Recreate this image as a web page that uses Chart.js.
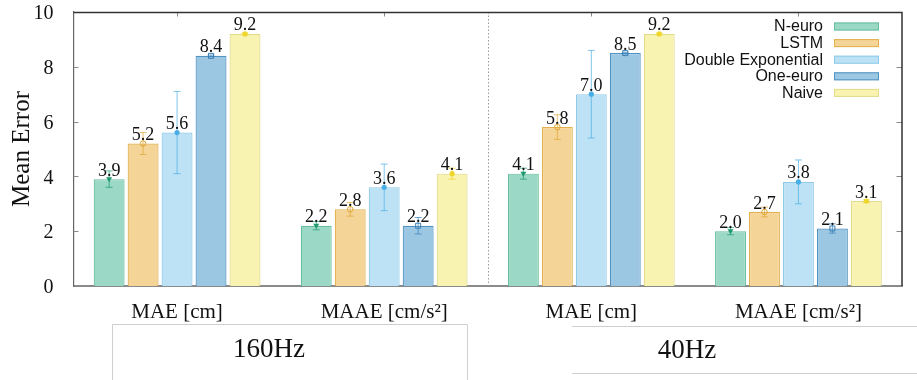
<!DOCTYPE html>
<html>
<head>
<meta charset="utf-8">
<script src="https://cdn.jsdelivr.net/npm/chart.js@4.4.1/dist/chart.umd.min.js"></script>
<style>
  html, body { margin: 0; padding: 0; background: #fff; }
  canvas { display: block; }
</style>
</head>
<body>
<canvas id="chart" width="917" height="380"></canvas>
<script>
// Metric categories along the x axis (two per sampling rate)
const categories = ['MAE [cm]', 'MAAE [cm/s²]', 'MAE [cm]', 'MAAE [cm/s²]'];
const rateGroups = ['160Hz', '40Hz'];
const seriesNames = ['N-euro', 'LSTM', 'Double Exponential', 'One-euro', 'Naive'];

// Mean errors per method
const nEuro     = [3.9, 2.2, 4.1, 2.0];
const lstm      = [5.2, 2.8, 5.8, 2.7];
const doubleExp = [5.6, 3.6, 7.0, 3.8];
const oneEuro   = [8.4, 2.2, 8.5, 2.1];
const naive     = [9.2, 4.1, 9.2, 3.1];

// Standard deviations (error bars)
const nEuroErr     = [0.30, 0.15, 0.20, 0.13];
const lstmErr      = [0.40, 0.25, 0.45, 0.18];
const doubleExpErr = [1.50, 0.85, 1.60, 0.80];
const oneEuroErr   = [0.03, 0.30, 0.03, 0.17];
const naiveErr     = [0.03, 0.20, 0.03, 0.05];

const yTicks = [0, 2, 4, 6, 8, 10];

const fills   = ['#9bd8c6', '#f4d597', '#bde2f5', '#9bc7e2', '#f8f3b0'];
const borders = ['#66bf9f', '#e2b04e', '#8fcbe9', '#5093c2', '#e2db8c'];
const markColors = ['#1e9a6e', '#e0a535', '#4aaee6', '#3b7fb5', '#efd62a'];
const markShapes = ['triangleDown', 'openCircle', 'dot', 'openSquare', 'dot'];

const values = [nEuro, lstm, doubleExp, oneEuro, naive];
const errors = [nEuroErr, lstmErr, doubleExpErr, oneEuroErr, naiveErr];

const SERIF = '"Liberation Serif", "Times New Roman", serif';
const SANS = '"Liberation Sans", Arial, sans-serif';

function drawMarker(ctx, shape, x, y, color) {
  ctx.save();
  ctx.fillStyle = color;
  ctx.strokeStyle = color;
  ctx.lineWidth = 1;
  ctx.beginPath();
  if (shape === 'triangleDown') {
    ctx.moveTo(x - 3, y - 2);
    ctx.lineTo(x + 3, y - 2);
    ctx.lineTo(x, y + 3);
    ctx.closePath();
    ctx.fill();
  } else if (shape === 'openCircle') {
    ctx.arc(x, y, 2.8, 0, Math.PI * 2);
    ctx.stroke();
  } else if (shape === 'openSquare') {
    ctx.rect(x - 2.5, y - 2.5, 5, 5);
    ctx.stroke();
  } else {
    ctx.arc(x, y, 2.6, 0, Math.PI * 2);
    ctx.fill();
  }
  ctx.restore();
}

// Frame, inward ticks, group separator, error bars, value labels, legend and rate boxes
const decorations = {
  id: 'decorations',
  beforeDatasetsDraw(chart) {
    const { ctx, chartArea: a, scales: { x, y } } = chart;
    ctx.save();
    // separator between the two sampling rates
    const sep = (x.getPixelForValue(1) + x.getPixelForValue(2)) / 2;
    ctx.strokeStyle = '#999';
    ctx.lineWidth = 1;
    ctx.setLineDash([1.5, 2]);
    ctx.beginPath();
    ctx.moveTo(Math.round(sep) + 0.5, a.top);
    ctx.lineTo(Math.round(sep) + 0.5, a.bottom);
    ctx.stroke();
    ctx.setLineDash([]);
    // inward ticks
    ctx.strokeStyle = '#8a8a8a';
    ctx.beginPath();
    yTicks.forEach(v => {
      if (v === 0 || v === 10) return;
      const py = Math.round(y.getPixelForValue(v)) + 0.5;
      ctx.moveTo(a.left, py); ctx.lineTo(a.left + 5, py);
      ctx.moveTo(a.right, py); ctx.lineTo(a.right - 5.5, py);
    });
    categories.forEach((c, i) => {
      const px = Math.round(x.getPixelForValue(i)) + 0.5;
      ctx.moveTo(px, a.top); ctx.lineTo(px, a.top + 4.5);
    });
    ctx.stroke();
    ctx.restore();
  },
  afterDatasetsDraw(chart) {
    const { ctx, chartArea: a, scales: { y } } = chart;
    ctx.save();
    // top and right frame lines
    ctx.strokeStyle = '#333';
    ctx.lineWidth = 1.5;
    ctx.beginPath();
    ctx.moveTo(a.left, a.top + 0.5);
    ctx.lineTo(a.right, a.top + 0.5);
    ctx.lineTo(a.right, a.bottom);
    ctx.stroke();

    // error bars, markers and value labels
    chart.data.datasets.forEach((ds, si) => {
      const meta = chart.getDatasetMeta(si);
      meta.data.forEach((bar, i) => {
        const v = values[si][i];
        const e = errors[si][i];
        const yHi = y.getPixelForValue(v + e);
        const yLo = y.getPixelForValue(v - e);
        ctx.strokeStyle = markColors[si];
        ctx.globalAlpha = 0.7;
        ctx.lineWidth = 1;
        ctx.beginPath();
        ctx.moveTo(bar.x, yHi); ctx.lineTo(bar.x, yLo);
        ctx.moveTo(bar.x - 3.5, yHi); ctx.lineTo(bar.x + 3.5, yHi);
        ctx.moveTo(bar.x - 3.5, yLo); ctx.lineTo(bar.x + 3.5, yLo);
        ctx.stroke();
        ctx.globalAlpha = 1;
        ctx.fillStyle = '#111';
        ctx.font = '18px ' + SERIF;
        ctx.textAlign = 'center';
        ctx.textBaseline = 'alphabetic';
        ctx.fillText(v.toFixed(1), bar.x, bar.y - 3.5);
        drawMarker(ctx, markShapes[si], bar.x, bar.y, markColors[si]);
      });
    });

    // legend
    ctx.font = '16px ' + SANS;
    ctx.textAlign = 'right';
    ctx.textBaseline = 'middle';
    seriesNames.forEach((name, i) => {
      const ry = 26.5 + i * 16.6;
      ctx.fillStyle = '#111';
      ctx.fillText(name, 823, ry + 0.5);
      ctx.fillStyle = fills[i];
      ctx.fillRect(834, ry - 4, 45, 8);
      ctx.strokeStyle = borders[i];
      ctx.lineWidth = 1;
      ctx.strokeRect(834.5, ry - 3.5, 44, 7);
    });

    // sampling-rate boxes under the axis
    ctx.strokeStyle = '#cfcfcf';
    ctx.lineWidth = 1;
    ctx.beginPath();
    ctx.moveTo(112.5, 381); ctx.lineTo(112.5, 324.5); ctx.lineTo(467.5, 324.5); ctx.lineTo(467.5, 381);
    ctx.moveTo(572, 326.5); ctx.lineTo(917, 326.5);
    ctx.moveTo(572, 373.5); ctx.lineTo(917, 373.5);
    ctx.stroke();
    ctx.fillStyle = '#111';
    ctx.font = '27px ' + SERIF;
    ctx.textAlign = 'center';
    ctx.textBaseline = 'middle';
    ctx.fillText(rateGroups[0], 269, 350);
    ctx.fillText(rateGroups[1], 687, 351);
    ctx.restore();
  }
};

new Chart(document.getElementById('chart'), {
  type: 'bar',
  data: {
    labels: categories,
    datasets: seriesNames.map((name, i) => ({
      label: name,
      data: values[i],
      backgroundColor: fills[i],
      borderColor: borders[i],
      borderWidth: 1.2,
      categoryPercentage: 0.82,
      barPercentage: 0.91
    }))
  },
  options: {
    responsive: false,
    animation: false,
    events: [],
    layout: { padding: { top: 12, right: 15, left: 0, bottom: 0 } },
    plugins: { legend: { display: false }, tooltip: { enabled: false } },
    scales: {
      x: {
        grid: { display: false },
        border: { display: true, color: '#8a8a8a', width: 2 },
        ticks: { color: '#111', font: { family: SERIF, size: 21 }, padding: 6, maxRotation: 0 },
        afterFit(s) { s.height = 94; s.paddingLeft = 0; s.paddingRight = 0; }
      },
      y: {
        min: 0, max: 10,
        afterBuildTicks(s) { s.ticks = yTicks.map(v => ({ value: v })); },
        grid: { display: false },
        border: { display: true, color: '#666', width: 1.2 },
        ticks: { color: '#111', font: { family: SERIF, size: 20 }, padding: 12, labelOffset: 2 },
        title: { display: true, text: 'Mean Error', color: '#111', font: { family: SERIF, size: 25 }, padding: { top: 7, bottom: 0 } },
        afterFit(s) { s.width = 73.5; s.paddingTop = 0; s.paddingBottom = 0; }
      }
    }
  },
  plugins: [decorations]
});
</script>
</body>
</html>
